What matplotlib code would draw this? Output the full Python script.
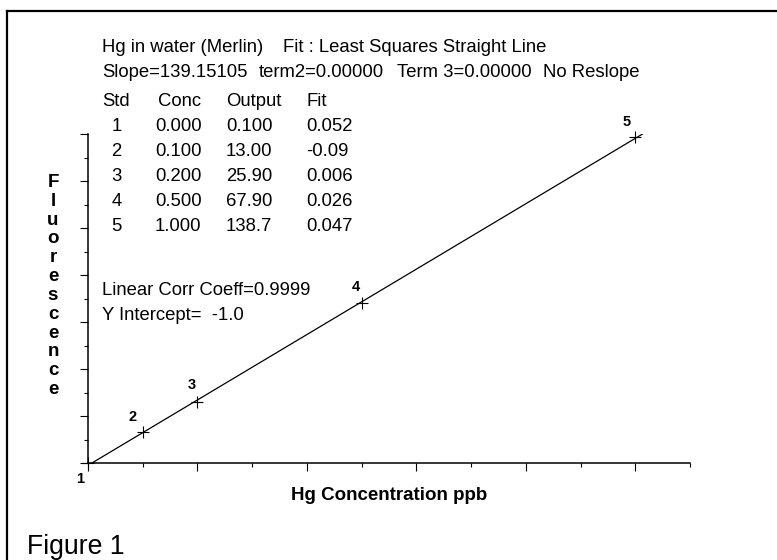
import matplotlib
matplotlib.use("Agg")
import matplotlib.pyplot as plt
from matplotlib.lines import Line2D
import numpy as np

plt.rcParams['font.family'] = ['Liberation Sans', 'DejaVu Sans']

# calibration standards
std = [1, 2, 3, 4, 5]
conc = [0.000, 0.100, 0.200, 0.500, 1.000]
output = [0.100, 13.00, 25.90, 67.90, 138.7]
output_txt = ["0.100", "13.00", "25.90", "67.90", "138.7"]
fit_txt = ["0.052", "-0.09", "0.006", "0.026", "0.047"]

slope = 139.15105
intercept = -1.0
corr = 0.9999

# label offsets in pixels (dx, dy) for the std numbers
lab_off = [(-8, -20), (-10, 11), (-6, 13), (-6, 12), (-9, 11)]

W, H = 777, 560
fig = plt.figure(figsize=(W / 100, H / 100), dpi=100)

def fx(px):
    return px / W

def fy(py):
    return 1 - py / H

ax = fig.add_axes([fx(88), fy(463), fx(690) - fx(88), fy(134) - fy(463)])
ax.set_xlim(0, 1.1)
ax.set_ylim(0, 140)
for s in ['top', 'right']:
    ax.spines[s].set_visible(False)
for s in ['left', 'bottom']:
    ax.spines[s].set_linewidth(1.1)
ax.set_xticks(np.arange(0, 1.01, 0.2))
ax.set_xticks(np.arange(0.1, 1.11, 0.2), minor=True)
ax.set_yticks(np.arange(0, 141, 20))
ax.set_yticks(np.arange(10, 131, 20), minor=True)
ax.tick_params(which='major', length=6.0, width=0.8, labelbottom=False, labelleft=False)
ax.tick_params(which='minor', length=3.2, width=0.8)

# fitted straight line
xl = np.array([0.0, 1.1])
ax.plot(xl, slope * xl + intercept, color='black', lw=0.9)
ax.plot(conc, output, '+', color='black', ms=8, mew=0.8, clip_on=False)
for i, (c, o) in enumerate(zip(conc, output)):
    dx, dy = lab_off[i]
    ax.annotate(str(std[i]), (c, o), xytext=(dx * 0.72, dy * 0.72),
                textcoords='offset points', ha='center', va='baseline',
                fontsize=10.5, fontweight='bold', annotation_clip=False)

fs = 13.3
fig.text(fx(102), fy(51.7), "Hg in water (Merlin)", fontsize=fs)
fig.text(fx(283), fy(51.7), "Fit : Least Squares Straight Line", fontsize=fs)
fig.text(fx(102), fy(77.3), "Slope=%.5f" % slope, fontsize=fs)
fig.text(fx(259), fy(77.3), "term2=0.00000", fontsize=fs)
fig.text(fx(397), fy(77.3), "Term 3=0.00000", fontsize=fs)
fig.text(fx(543), fy(77.3), "No Reslope", fontsize=fs)

fig.text(fx(102), fy(106), "Std", fontsize=fs)
fig.text(fx(158), fy(106), "Conc", fontsize=fs)
fig.text(fx(226), fy(106), "Output", fontsize=fs)
fig.text(fx(306), fy(106), "Fit", fontsize=fs)
for i in range(len(std)):
    yb = fy(131 + 25 * i)
    fig.text(fx(116.5), yb, str(std[i]), fontsize=fs, ha='center')
    fig.text(fx(155), yb, "%.3f" % conc[i], fontsize=fs)
    fig.text(fx(226), yb, output_txt[i], fontsize=fs)
    fig.text(fx(306), yb, fit_txt[i], fontsize=fs)

fig.text(fx(102), fy(295), "Linear Corr Coeff=%.4f" % corr, fontsize=fs)
fig.text(fx(102), fy(320), "Y Intercept=  %.1f" % intercept, fontsize=fs)

fig.text(fx(389), fy(500), "Hg Concentration ppb", fontsize=13.5,
         fontweight='bold', ha='center', va='baseline')
fig.text(fx(53), fy(174), "\n".join("Fluorescence"), fontsize=13.5,
         fontweight='bold', ha='center', va='top', linespacing=1.14)

fig.text(fx(27), fy(554), "Figure 1", fontsize=19.2)

# outer frame (top and left only)
fig.add_artist(Line2D([fx(7), 1], [fy(11), fy(11)], color='black', lw=1.6))
fig.add_artist(Line2D([fx(7), fx(7)], [fy(11), 0], color='black', lw=1.6))

fig.savefig("out.png", dpi=100)
